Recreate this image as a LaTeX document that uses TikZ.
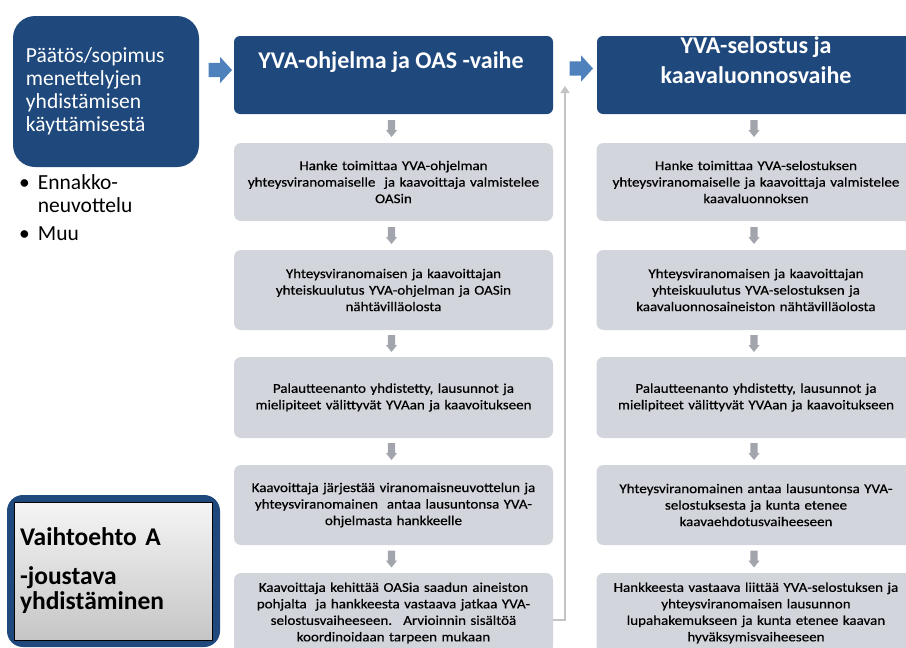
\documentclass[tikz,border=0pt]{standalone}
\usepackage{fontspec}
\setmainfont{Carlito}
\newfontfamily\boxfont[FakeStretch=1.12,FakeBold=0.5]{Carlito}
\usetikzlibrary{calc,arrows.meta}
\definecolor{dblue}{HTML}{1F487C}
\definecolor{gbox}{HTML}{D3D5DC}
\definecolor{garrow}{HTML}{A3A5AD}
\definecolor{barrow}{HTML}{4F81BD}
\definecolor{gline}{HTML}{C4C4C4}
\tikzset{
  hdr/.style={fill=dblue, rounded corners=6pt, inner sep=0pt},
  hdrtext/.style={text=white, font=\bfseries\fontsize{24}{30}\selectfont, align=center, inner sep=0pt},
  gbox/.style={fill=gbox, rounded corners=7pt, text width=318pt, align=center, inner sep=0pt,
    font=\boxfont\fontsize{13.4}{16.5}\selectfont, minimum width=319pt},
  smallarrow/.pic={\fill[garrow] (-3.6,-8.5) -- (3.6,-8.5) -- (3.6,1.5) -- (5.6,1.5) -- (0,8.5)
      -- (-5.6,1.5) -- (-3.6,1.5) -- cycle;},
  bluearrow/.pic={\fill[barrow] (-11.5,-7.2) -- (0,-7.2) -- (0,-13.2) -- (12,0) -- (0,13.2)
      -- (0,7.2) -- (-11.5,7.2) -- cycle;},
}
\begin{document}
\begin{tikzpicture}[x=1pt,y=-1pt]
\useasboundingbox (0,0) rectangle (906,648);
\clip (0,0) rectangle (906,648);

% left decision box
\node[hdr, rounded corners=22pt, minimum width=186pt, minimum height=151pt, text width=160pt,
  align=left, text=white, font=\fontsize{21.5}{23}\selectfont] (L) at (106,91.5)
  {Päätös/sopimus\\menettelyjen\\yhdistämisen\\käyttämisestä};
\node[anchor=north west, inner sep=0pt, font=\fontsize{21.5}{23}\selectfont] (bul) at (19,173)
  {\begin{tabular}{@{}l@{\hspace{8pt}}l@{}}\textbullet & Ennakko-\\ & neuvottelu\\[5pt]\textbullet & Muu\end{tabular}};

% headers
\node[hdr, minimum width=319pt, minimum height=78pt] (hA) at (393.5,75) {};
\node[hdrtext] (hAt) at (391,62) {YVA-ohjelma ja OAS -vaihe};
\node[hdr, minimum width=318pt, minimum height=78pt] (hB) at (756,75) {};
\node[hdrtext] (hBt) at (756,60) {YVA-selostus ja\\kaavaluonnosvaihe};

% blue arrows
\pic (ba1) at (220,70) {bluearrow};
\pic (ba2) at (581,68.5) {bluearrow};

% middle column
\node[gbox, minimum height=78pt] (a1) at (393.5,182)
  {Hanke toimittaa YVA-ohjelman\\yhteysviranomaiselle \ ja kaavoittaja valmistelee\\OASin};
\node[gbox, minimum height=80pt] (a2) at (393.5,290)
  {Yhteysviranomaisen ja kaavoittajan\\yhteiskuulutus YVA-ohjelman ja OASin\\nähtävilläolosta};
\node[gbox, minimum height=81pt] (a3) at (393.5,397.5)
  {Palautteenanto yhdistetty, lausunnot ja\\mielipiteet välittyvät YVAan ja kaavoitukseen};
\node[gbox, minimum height=80pt] (a4) at (393.5,505)
  {Kaavoittaja järjestää viranomaisneuvottelun ja\\yhteysviranomainen \ antaa lausuntonsa YVA-\\ohjelmasta hankkeelle};
\node[gbox, minimum height=80pt] (a5) at (393.5,613)
  {Kaavoittaja kehittää OASia saadun aineiston\\pohjalta \ ja hankkeesta vastaava jatkaa YVA-\\selostusvaiheeseen. \ Arvioinnin sisältöä\\koordinoidaan tarpeen mukaan};

% right column
\node[gbox, minimum height=78pt] (c1) at (756,182)
  {Hanke toimittaa YVA-selostuksen\\yhteysviranomaiselle ja kaavoittaja valmistelee\\kaavaluonnoksen};
\node[gbox, minimum height=80pt] (c2) at (756,290)
  {Yhteysviranomaisen ja kaavoittajan\\yhteiskuulutus YVA-selostuksen ja\\kaavaluonnosaineiston nähtävilläolosta};
\node[gbox, minimum height=81pt] (c3) at (756,397.5)
  {Palautteenanto yhdistetty, lausunnot ja\\mielipiteet välittyvät YVAan ja kaavoitukseen};
\node[gbox, minimum height=80pt] (c4) at (756,505)
  {Yhteysviranomainen antaa lausuntonsa YVA-\\selostuksesta ja kunta etenee\\kaavaehdotusvaiheeseen};
\node[gbox, minimum height=80pt] (c5) at (756,613)
  {Hankkeesta vastaava liittää YVA-selostuksen ja\\yhteysviranomaisen lausunnon\\lupahakemukseen ja kunta etenee kaavan\\hyväksymisvaiheeseen};

% small down arrows
\foreach \u/\v [count=\i] in {hA/a1,a1/a2,a2/a3,a3/a4,a4/a5}{
  \pic (sa\i) at ($(\u.south)!0.5!(\v.north)+(-2,0)$) {smallarrow};
}
\foreach \u/\v [count=\i] in {hB/c1,c1/c2,c2/c3,c3/c4,c4/c5}{
  \pic (sc\i) at ($(\u.south)!0.5!(\v.north)+(-2,0)$) {smallarrow};
}

% return connector
\coordinate (up) at (565,86);
\draw[gline, line width=2pt, -{Triangle[width=9pt,length=7pt]}] ($(a5.east)+(0,7)$) -| (up);

% bottom-left option box
\node[fill=dblue, rounded corners=16pt, minimum width=213pt, minimum height=152pt, inner sep=0pt] (V) at (113.5,571) {};
\node[draw=black, line width=1pt, top color=white!92!gray, bottom color=gray!45, minimum width=198pt,
  minimum height=138pt, text width=186pt, align=left, inner sep=0pt,
  font=\bfseries\fontsize{25.5}{25}\selectfont] (Vi) at (113,571)
  {Vaihtoehto A\\[14pt]-joustava\\yhdistäminen};
\end{tikzpicture}
\end{document}
